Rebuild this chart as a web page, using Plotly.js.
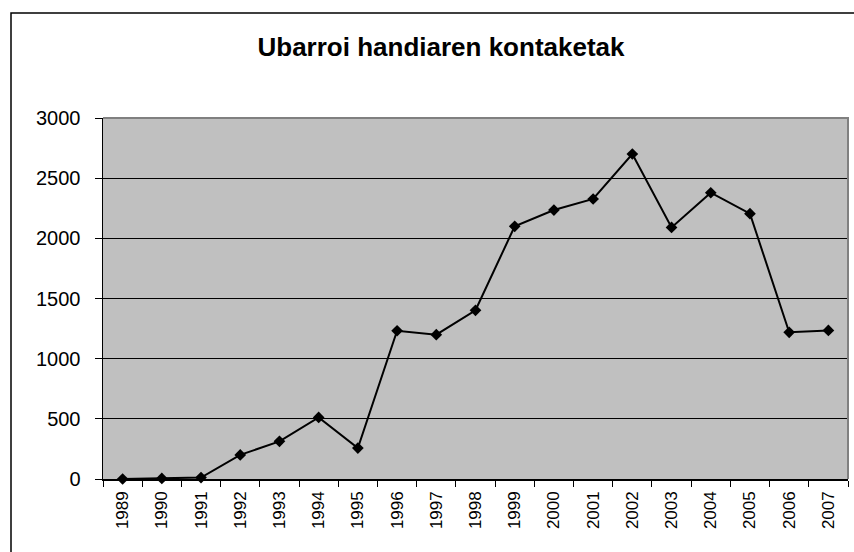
<!DOCTYPE html>
<html>
<head>
<meta charset="utf-8">
<script src="https://cdn.plot.ly/plotly-3.0.1.min.js"></script>
<style>html,body{margin:0;padding:0;background:#fff;}</style>
</head>
<body>
<div id="chart" style="width:854px;height:552px;"></div>
<script>
const years = ["1989","1990","1991","1992","1993","1994","1995","1996","1997","1998","1999","2000","2001","2002","2003","2004","2005","2006","2007"];
const counts = [0, 5, 12, 200, 313, 512, 257, 1232, 1199, 1402, 2100, 2235, 2327, 2701, 2091, 2379, 2205, 1219, 1235];
const yTicks = [0, 500, 1000, 1500, 2000, 2500, 3000];
const titleText = "Ubarroi handiaren kontaketak";

const L = 103, R = 848, T = 118, B = 479, W = 854, H = 552;
const pw = R - L, ph = B - T;
function px(x){ return (x - L) / pw; }
function py(y){ return (B - y) / ph; }

const trace = {
  x: years, y: counts, type: 'scatter', mode: 'lines+markers',
  line: {color: '#000000', width: 2},
  marker: {symbol: 'diamond', size: 9, color: '#000000'},
  hoverinfo: 'x+y', cliponaxis: false
};

const layout = {
  width: W, height: H,
  margin: {l: L, r: W - R, t: T, b: H - B},
  paper_bgcolor: '#ffffff', plot_bgcolor: '#c0c0c0',
  showlegend: false,
  font: {family: 'Liberation Sans, Arial, sans-serif', color: '#000000'},
  title: {text: '<b>' + titleText + '</b>', font: {size: 26, family: 'Liberation Sans, Arial, sans-serif', color: '#000'},
          xref: 'container', x: 441 / W, xanchor: 'center', yref: 'container', y: 1 - 47 / H, yanchor: 'middle'},
  xaxis: {type: 'category', tickson: 'boundaries', ticks: 'outside', ticklen: 6, tickcolor: '#000',
          showline: true, linecolor: '#000', linewidth: 1.5, showgrid: false, tickangle: -90,
          tickfont: {size: 17}, ticklabelstandoff: 4, zeroline: false, fixedrange: true, range: [-0.5, years.length - 0.5]},
  yaxis: {range: [0, 3000], tickvals: yTicks, ticktext: yTicks.map(String), ticks: 'outside', ticklen: 7, tickcolor: '#000',
          showline: true, linecolor: '#000', linewidth: 1.5, showgrid: true, gridcolor: '#000000', gridwidth: 1,
          tickfont: {size: 20}, ticklabelstandoff: 10, zeroline: false, fixedrange: true},
  shapes: [
    {type: 'path', xref: 'paper', yref: 'paper', path: 'M 0,1 L 1,1 L 1,0', line: {color: '#808080', width: 2}, layer: 'above'},
    {type: 'rect', xref: 'paper', yref: 'paper', x0: px(11), x1: px(W + 5), y0: py(H + 5), y1: py(13),
     line: {color: '#000000', width: 1.5}, fillcolor: 'rgba(0,0,0,0)', layer: 'above'}
  ]
};

Plotly.newPlot('chart', [trace], layout, {displayModeBar: false, staticPlot: true});
</script>
</body>
</html>
